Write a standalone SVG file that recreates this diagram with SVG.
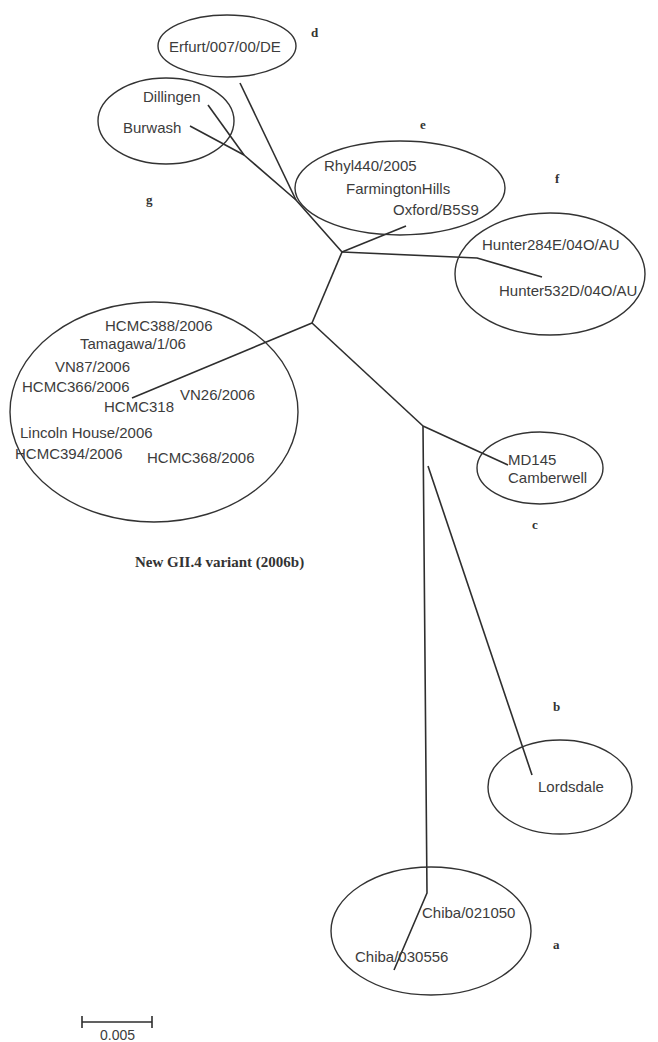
<svg xmlns="http://www.w3.org/2000/svg" width="658" height="1042" viewBox="0 0 658 1042">
<style>
.ell{fill:none;stroke:#333;stroke-width:1.4}
.br{fill:none;stroke:#2e2e2e;stroke-width:1.6;stroke-linejoin:round}
.t{font-family:"Liberation Sans",Arial,sans-serif;font-size:15px;fill:#3c3c3c}
.l{font-family:"Liberation Serif","Times New Roman",serif;font-size:13px;font-weight:bold;fill:#333}
.cap{font-family:"Liberation Serif","Times New Roman",serif;font-size:15px;font-weight:bold;fill:#333}
</style>
<rect width="658" height="1042" fill="#fff"/>
<g id="connectors">
<path class="br" d="M240,83 L296,200"/>
<path class="br" d="M208,105 L244,155"/>
<path class="br" d="M190,126 L244,155 L296,200 L342,252"/>
<path class="br" d="M342,252 L406,226"/>
<path class="br" d="M342,252 L477,258 L542,277"/>
<path class="br" d="M342,252 L312,323"/>
<path class="br" d="M312,323 L132,398"/>
<path class="br" d="M312,323 L423,426"/>
<path class="br" d="M423,426 L508,465"/>
<path class="br" d="M423,426 L427,893 L394,970"/>
<path class="br" d="M428,466 L532,775"/>
</g>
<g id="cluster-d">
<ellipse class="ell" cx="227" cy="46" rx="69" ry="31"/>
<text class="t" x="169" y="52">Erfurt/007/00/DE</text>
</g>
<g id="cluster-g">
<ellipse class="ell" cx="166" cy="121" rx="68" ry="43"/>
<text class="t" x="143" y="102">Dillingen</text>
<text class="t" x="123" y="133">Burwash</text>
</g>
<g id="cluster-e">
<ellipse class="ell" cx="400" cy="188" rx="105" ry="47"/>
<text class="t" x="324" y="171">Rhyl440/2005</text>
<text class="t" x="346" y="194">FarmingtonHills</text>
<text class="t" x="393" y="215">Oxford/B5S9</text>
</g>
<g id="cluster-f">
<ellipse class="ell" cx="550" cy="274" rx="95" ry="61"/>
<text class="t" x="482" y="250">Hunter284E/04O/AU</text>
<text class="t" x="499" y="296">Hunter532D/04O/AU</text>
</g>
<g id="cluster-2006b">
<ellipse class="ell" cx="154" cy="412" rx="144" ry="110"/>
<text class="t" x="105" y="331">HCMC388/2006</text>
<text class="t" x="80" y="349">Tamagawa/1/06</text>
<text class="t" x="55" y="372">VN87/2006</text>
<text class="t" x="22" y="392">HCMC366/2006</text>
<text class="t" x="180" y="400">VN26/2006</text>
<text class="t" x="104" y="412">HCMC318</text>
<text class="t" x="20" y="438">Lincoln House/2006</text>
<text class="t" x="15" y="459">HCMC394/2006</text>
<text class="t" x="147" y="463">HCMC368/2006</text>
</g>
<g id="cluster-c">
<ellipse class="ell" cx="540" cy="468" rx="63" ry="36"/>
<text class="t" x="508" y="465">MD145</text>
<text class="t" x="508" y="483">Camberwell</text>
</g>
<g id="cluster-b">
<ellipse class="ell" cx="560" cy="787" rx="72" ry="47"/>
<text class="t" x="538" y="792">Lordsdale</text>
</g>
<g id="cluster-a">
<ellipse class="ell" cx="431" cy="931" rx="100" ry="64"/>
<text class="t" x="422" y="918">Chiba/021050</text>
<text class="t" x="355" y="962">Chiba/030556</text>
</g>
<g id="labels">
<text class="l" x="311" y="37">d</text>
<text class="l" x="420" y="129">e</text>
<text class="l" x="555" y="183">f</text>
<text class="l" x="146" y="204">g</text>
<text class="l" x="532" y="529">c</text>
<text class="l" x="553" y="711">b</text>
<text class="l" x="553" y="949">a</text>
<text class="cap" x="135" y="567">New GII.4 variant (2006b)</text>
</g>
<g id="scale-bar">
<path class="br" d="M82,1022 H152 M82,1016 V1028 M152,1016 V1028"/>
<text class="t" x="100" y="1040" style="font-size:14px">0.005</text>
</g>
</svg>
